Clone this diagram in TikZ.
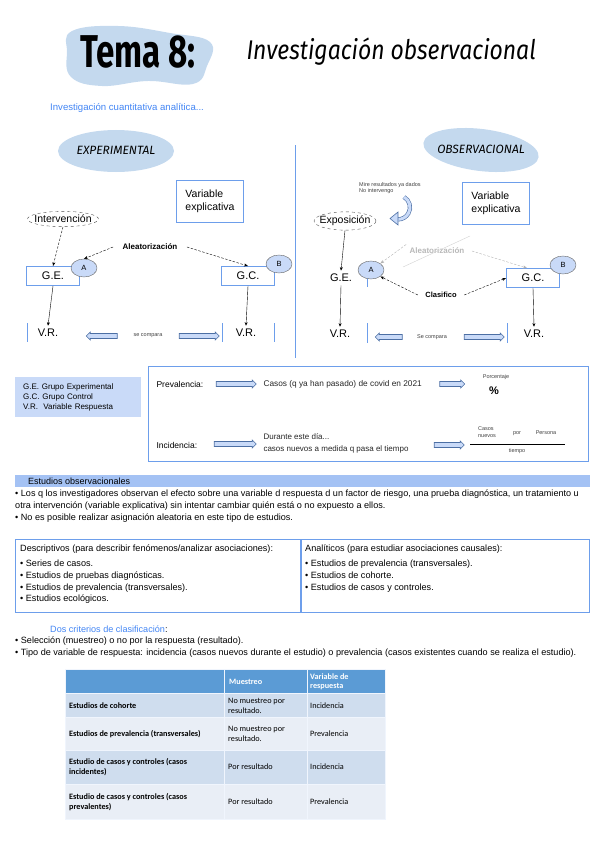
\documentclass[tikz,border=0pt]{standalone}
\usepackage{fontspec}
\setmainfont{Liberation Sans}
\newfontfamily\handfont[FakeStretch=0.72]{Fira Sans}
\newfontfamily\handwide[FakeStretch=0.85]{Fira Sans}
\newfontfamily\notefont{Fira Sans}
\newfontfamily\tablefont{Carlito}
\usetikzlibrary{shapes.geometric,shapes.arrows,arrows.meta,positioning}

\definecolor{lineblue}{RGB}{109,158,235}
\definecolor{softblue}{RGB}{201,218,248}
\definecolor{blobblue}{RGB}{196,217,238}
\definecolor{barblue}{RGB}{164,194,244}
\definecolor{linkblue}{RGB}{66,133,244}
\definecolor{headblue}{RGB}{91,155,213}
\definecolor{rowdark}{RGB}{207,221,238}
\definecolor{rowlight}{RGB}{233,238,246}

\tikzset{
  blobtext/.style={font=\notefont\itshape\fontsize{12}{14}\selectfont},
  varbox/.style={draw=lineblue, line width=1pt, align=left, minimum width=67pt, minimum height=42pt, inner xsep=4pt, font=\fontsize{10.5}{13}\selectfont},
  groupbox/.style={draw=lineblue, line width=0.9pt, minimum width=53pt, minimum height=19pt, font=\fontsize{11}{12}\selectfont},
  grouplabel/.style={font=\fontsize{11}{12}\selectfont},
  lettertag/.style={ellipse, draw=black!60, fill=softblue, minimum width=26pt, minimum height=18pt, inner sep=0pt, font=\fontsize{7.5}{8}\selectfont},
  factor/.style={ellipse, draw=black!70, dashed, inner xsep=-3.5pt, inner ysep=1.5pt, font=\fontsize{10.5}{12}\selectfont},
  blockarrow/.style={single arrow, draw=lineblue!70!black, fill=softblue, line width=0.6pt, single arrow head extend=1.5pt, minimum width=8pt, inner sep=2.2pt, minimum height=#1},
  linkdash/.style={dash pattern=on 2.5pt off 1.5pt, -{Stealth[length=4pt,width=3pt]}},
  downarrow/.style={-{Stealth[length=3.5pt,width=3pt]}},
  smalltext/.style={font=\fontsize{5.5}{6.5}\selectfont, text=black!75},
  bodytext/.style={font=\fontsize{9.1}{12}\selectfont, align=left, inner sep=0pt, anchor=north west},
  vrtick/.style={lineblue, line width=0.9pt},
  cell/.style={font=\tablefont\fontsize{8.2}{9.5}\selectfont, align=left, anchor=west, inner sep=0pt},
}

\begin{document}
\begin{tikzpicture}[x=1pt,y=-1pt]
\useasboundingbox (0,0) rectangle (600,848);

% title
\fill[blobblue] plot[smooth cycle, tension=0.7] coordinates {(72,31) (118,26) (170,33) (210,42) (207,66) (193,84) (148,81) (102,86) (71,77) (67,52)};
\node[font=\handfont\bfseries\fontsize{46}{50}\selectfont] (tema) at (138,52) {Tema 8:};
\node[font=\handwide\itshape\fontsize{27}{30}\selectfont, anchor=west] (titulo) at (243,52) {Investigación observacional};
\node[font=\fontsize{9.6}{11}\selectfont, text=linkblue, anchor=west, inner sep=0pt] (sub) at (50,108) {Investigación cuantitativa analítica...};

% experimental
\fill[blobblue] (116,151) ellipse [x radius=58, y radius=21];
\node[blobtext] (expe) at (116,150) {EXPERIMENTAL};
\node[varbox] (varexp) at (210,201) {Variable\\explicativa};
\node[factor] (interv) at (63,219) {Intervención};
\node[groupbox] (geexp) at (53,276) {G.E.};
\node[lettertag] (aexp) at (84,268) {A};
\node[groupbox] (gcexp) at (248,276) {G.C.};
\node[lettertag] (bexp) at (279,264) {B};
\node[font=\bfseries\fontsize{8}{9}\selectfont] (aleaexp) at (150,247) {Aleatorización};
\draw[linkdash] ([xshift=-6pt]aleaexp.west) -- (aexp.north);
\draw[linkdash] ([xshift=6pt]aleaexp.east) -- (gcexp.north);
\draw[linkdash] (interv.south) -- (geexp.north);
\node[grouplabel] (vrge) at (48,333) {V.R.};
\node[grouplabel] (vrgc) at (246,333) {V.R.};
\draw[downarrow] (geexp.south) -- (vrge.north);
\draw[downarrow] (gcexp.south) -- (vrgc.north);
\draw[vrtick] (27,323) -- (27,342);
\draw[vrtick] (222,323) -- (222,342);
\draw[vrtick] (274,323) -- (274,342);
\node[blockarrow=31pt, shape border rotate=180] (cmpl) at (103,336) {};
\node[smalltext] (cmp) at (148,336) {se compara};
\node[blockarrow=40pt] (cmpr) at (198,336) {};

\draw[lineblue, line width=1pt] (295,145) -- (295,358);

% observacional
\fill[blobblue, rotate around={-7:(481,150)}] (481,150) ellipse [x radius=58, y radius=21];
\node[blobtext] (obse) at (481,149) {OBSERVACIONAL};
\node[smalltext, align=left, anchor=west, inner sep=0pt] (nota) at (359,188) {Mire resultados ya dados\\No intervengo};
\draw[lineblue!70!black, double=softblue, double distance=3pt, line width=0.6pt] (404,197) arc [start angle=-60, end angle=90, radius=12];
\filldraw[draw=lineblue!70!black, fill=softblue, line width=0.6pt] (398,212) -- (398,225) -- (390,218.5) -- cycle;
\node[varbox] (varobs) at (496,203) {Variable\\explicativa};
\node[factor] (expo) at (345,221) {Exposición};
\node[grouplabel] (geobs) at (341,278) {G.E.};
\draw[vrtick] (367,273) -- (367,287);
\node[lettertag] (aobs) at (371,270) {A};
\node[groupbox] (gcobs) at (533,278) {G.C.};
\node[lettertag] (bobs) at (563,265) {B};
\node[font=\bfseries\fontsize{8}{9}\selectfont, text=black!28] (aleaobs) at (437,251) {Aleatorización};
\coordinate (crossa) at (403,267);
\coordinate (crossb) at (470,236);
\draw[black!18] (crossa) -- (crossb);
\draw[linkdash, black!30] (aleaobs.north west) -- (aobs.north east);
\draw[linkdash, black!30] ([xshift=4pt]aleaobs.east) -- ([xshift=-6pt]gcobs.north);
\node[font=\bfseries\fontsize{7.5}{9}\selectfont] (clas) at (441,295) {Clasifico};
\draw[linkdash] ([xshift=-4pt]clas.west) -- (aobs.south east);
\draw[linkdash] ([xshift=4pt]clas.east) -- (gcobs.west);
\draw[downarrow] (expo.south) -- (geobs.north);
\node[grouplabel] (vrobe) at (340,334) {V.R.};
\node[grouplabel] (vrobc) at (534,334) {V.R.};
\draw[downarrow] (geobs.south) -- (vrobe.north);
\draw[downarrow] (gcobs.south) -- (vrobc.north);
\draw[vrtick] (367,323) -- (367,343);
\draw[vrtick] (507,323) -- (507,343);
\node[blockarrow=27pt, shape border rotate=180] (compl) at (390,337) {};
\node[smalltext] (comp) at (432,337) {Se compara};
\node[blockarrow=40pt] (compr) at (483,337) {};

% leyenda
\node[fill=softblue, align=left, anchor=north west, text width=110pt, inner xsep=8pt, inner ysep=6pt, font=\fontsize{8}{10}\selectfont] (leyenda) at (15,377) {G.E. Grupo Experimental\\G.C. Grupo Control\\V.R.\ \ Variable Respuesta};

% prevalencia / incidencia
\node[draw=lineblue, line width=1pt, minimum width=440pt, minimum height=95pt, anchor=north west] (medidas) at (148,366) {};
\node[font=\fontsize{8.5}{10}\selectfont, anchor=west] (prev) at (153,384) {Prevalencia:};
\node[blockarrow=40pt] (prevarr) at (235,384) {};
\node[font=\fontsize{8.3}{10}\selectfont, anchor=west, text=black!85] (prevtxt) at (260,384) {Casos (q ya han pasado) de covid en 2021};
\node[blockarrow=25pt] (prevarr2) at (451,384) {};
\node[smalltext] (porc) at (496,377) {Porcentaje};
\node[font=\bfseries\fontsize{11}{12}\selectfont] (pct) at (494,391) {\%};
\node[font=\fontsize{8.5}{10}\selectfont, anchor=west] (inci) at (153,445) {Incidencia:};
\node[blockarrow=42pt] (inciarr) at (234,444) {};
\node[font=\fontsize{8}{12}\selectfont, anchor=west, align=left, text=black!85] (incitxt) at (260,443) {Durante este día...\\casos nuevos a medida q pasa el tiempo};
\node[blockarrow=30pt] (inciarr2) at (448,445) {};
\coordinate (fraca) at (470,444);
\coordinate (fracb) at (565,444);
\draw[line width=1pt] (fraca) -- (fracb);
\node[smalltext, align=left] (casos) at (487,432) {Casos\\nuevos};
\node[smalltext] (por) at (517,434) {por};
\node[smalltext] (persona) at (546,433) {Persona};
\node[smalltext] (tiempo) at (517,451) {tiempo};

% estudios observacionales
\node[fill=barblue, minimum width=575pt, minimum height=12pt, anchor=north west, inner sep=0pt] (barra) at (15,475) {};
\node[font=\fontsize{9}{10}\selectfont, anchor=west, inner sep=0pt] (estobs) at (28,481) {Estudios observacionales};
\node[bodytext] (intro) at (15,490) {• Los q los investigadores observan el efecto sobre una variable d respuesta d un factor de riesgo, una prueba diagnóstica, un tratamiento u\\otra intervención (variable explicativa) sin intentar cambiar quién está o no expuesto a ellos.\\• No es posible realizar asignación aleatoria en este tipo de estudios.};

\node[draw=lineblue, line width=1pt, minimum width=285pt, minimum height=73pt, anchor=north west] (desc) at (15,539) {};
\node[draw=lineblue, line width=1pt, minimum width=288pt, minimum height=73pt, anchor=north west] (anal) at (desc.north east) {};
\node[bodytext, font=\fontsize{9.1}{11.7}\selectfont] (desctxt) at (20,545) {Descriptivos (para describir fenómenos/analizar asociaciones):\\[3pt]• Series de casos.\\• Estudios de pruebas diagnósticas.\\• Estudios de prevalencia (transversales).\\• Estudios ecológicos.};
\node[bodytext, font=\fontsize{9.1}{11.7}\selectfont] (analtxt) at (305,545) {Analíticos (para estudiar asociaciones causales):\\[3pt]• Estudios de prevalencia (transversales).\\• Estudios de cohorte.\\• Estudios de casos y controles.};

\node[bodytext] (criterios) at (50,626) {\textcolor{linkblue}{Dos criterios de clasificación}:};
\node[bodytext] (crittxt) at (15,637) {• Selección (muestreo) o no por la respuesta (resultado).\\• Tipo de variable de respuesta: incidencia (casos nuevos durante el estudio) o prevalencia (casos existentes cuando se realiza el estudio).};

% tabla
\fill[white!90!lineblue] (65,669) rectangle (386,820);
\foreach \ya/\yb/\colr in {670/693/headblue, 694/717/rowdark, 718/750/rowlight, 751/784/rowdark, 785/819/rowlight}{
  \fill[\colr] (66,\ya) rectangle (223.5,\yb);
  \fill[\colr] (224.5,\ya) rectangle (306.5,\yb);
  \fill[\colr] (307.5,\ya) rectangle (385,\yb);
}
\node[cell, text=white, font=\tablefont\bfseries\fontsize{8.2}{9.5}\selectfont] (hmuestreo) at (229,682) {Muestreo};
\node[cell, text=white, font=\tablefont\bfseries\fontsize{8.2}{9.5}\selectfont] (hvariable) at (310,682) {Variable de\\respuesta};
\foreach \yc/\estudio/\muestreo/\respuesta in {706/{Estudios de cohorte}/{No muestreo por\\resultado.}/Incidencia, 734/{Estudios de prevalencia (transversales)}/{No muestreo por\\resultado.}/Prevalencia, 767/{Estudio de casos y controles (casos\\incidentes)}/Por resultado/Incidencia, 802/{Estudio de casos y controles (casos\\prevalentes)}/Por resultado/Prevalencia}{
  \node[cell, font=\tablefont\bfseries\fontsize{8.2}{9.5}\selectfont] at (69,\yc) {\estudio};
  \node[cell] at (228,\yc) {\muestreo};
  \node[cell] at (310,\yc) {\respuesta};
}
\end{tikzpicture}
\end{document}
